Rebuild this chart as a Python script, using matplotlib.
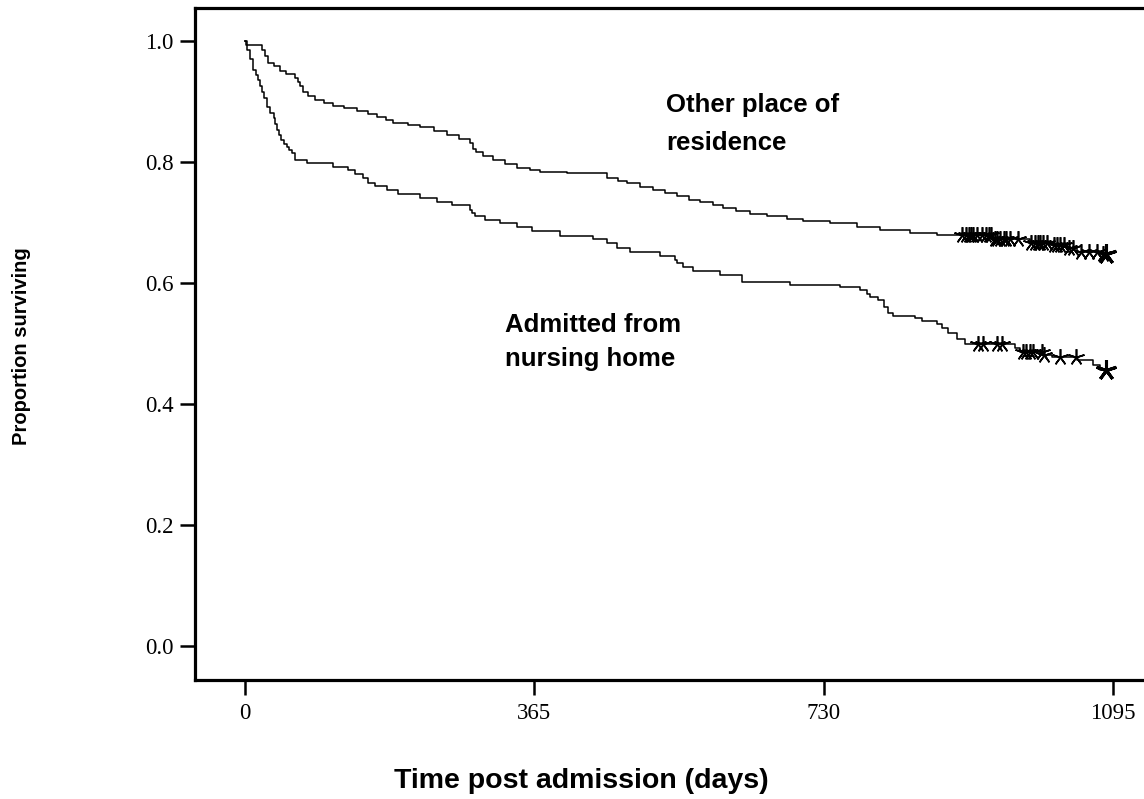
import numpy as np
import matplotlib
matplotlib.use("Agg")
import matplotlib.pyplot as plt

# ---- data ----
other_t = [0, 1, 22, 25, 29, 36, 44, 52, 63, 67, 70, 73, 80, 88, 100, 111, 125, 141, 155, 166,
           178, 187, 205, 221, 238, 255, 270, 284, 288, 292, 300, 313, 328, 343, 360, 372, 406,
           457, 470, 482, 498, 515, 530, 545, 560, 574, 590, 603, 620, 637, 658, 684, 704, 738,
           772, 801, 839, 873, 944, 990, 1016, 1037, 1050, 1080, 1090]
other_s = [1.0, 0.993, 0.985, 0.975, 0.964, 0.958, 0.951, 0.945, 0.939, 0.932, 0.925, 0.916,
           0.909, 0.902, 0.897, 0.892, 0.889, 0.885, 0.880, 0.875, 0.869, 0.864, 0.861, 0.858,
           0.852, 0.845, 0.838, 0.831, 0.822, 0.817, 0.810, 0.803, 0.797, 0.790, 0.786, 0.784,
           0.782, 0.774, 0.769, 0.765, 0.759, 0.753, 0.748, 0.743, 0.738, 0.734, 0.729, 0.724,
           0.719, 0.714, 0.711, 0.706, 0.703, 0.699, 0.693, 0.688, 0.683, 0.680, 0.672, 0.666,
           0.663, 0.658, 0.651, 0.648, 0.648]
other_cens = [905, 910, 913, 916, 919, 923, 930, 935, 938, 941, 946, 949, 953, 957, 960, 965,
              975, 992, 996, 1000, 1003, 1007, 1012, 1020, 1024, 1028, 1033, 1040, 1045, 1055,
              1065, 1075, 1082, 1086]

nh_t = [0, 3, 6, 10, 14, 17, 19, 21, 24, 28, 32, 36, 38, 40, 43, 45, 49, 53, 56, 59, 63, 78,
        111, 130, 139, 149, 155, 164, 179, 193, 221, 242, 261, 284, 286, 290, 303, 322, 343, 362,
        397, 439, 457, 469, 486, 523, 543, 545, 553, 565, 599, 627, 688, 751, 776, 785, 788, 799,
        806, 811, 818, 845, 854, 873, 879, 887, 898, 908, 971, 978, 1006, 1018, 1050, 1070, 1078,
        1088]
nh_s = [1.0, 0.985, 0.970, 0.952, 0.943, 0.935, 0.925, 0.916, 0.905, 0.891, 0.881, 0.872, 0.862,
        0.853, 0.845, 0.836, 0.830, 0.825, 0.820, 0.815, 0.804, 0.798, 0.792, 0.787, 0.780, 0.774,
        0.765, 0.760, 0.754, 0.747, 0.741, 0.734, 0.729, 0.721, 0.715, 0.710, 0.704, 0.699, 0.692,
        0.686, 0.678, 0.672, 0.666, 0.658, 0.652, 0.645, 0.638, 0.633, 0.627, 0.620, 0.613, 0.601,
        0.596, 0.593, 0.588, 0.582, 0.577, 0.572, 0.560, 0.551, 0.545, 0.542, 0.538, 0.532, 0.525,
        0.517, 0.507, 0.500, 0.493, 0.486, 0.481, 0.478, 0.473, 0.464, 0.456, 0.456]
nh_cens = [925, 931, 949, 955, 981, 985, 990, 994, 1005, 1008, 1028, 1048, 1086]

x_ticks = [0, 365, 730, 1095]
y_ticks = [0.0, 0.2, 0.4, 0.6, 0.8, 1.0]
y_ticklabels = ["0.0", "0.2", "0.4", "0.6", "0.8", "1.0"]

# ---- figure ----
W, H = 1144, 799
fig = plt.figure(figsize=(W / 100, H / 100), dpi=100)
AX_L, AX_R, AX_T, AX_B = 195, 1160, 7.5, 680
ax = fig.add_axes([AX_L / W, (H - AX_B) / H, (AX_R - AX_L) / W, (AX_B - AX_T) / H])

def surv_at(t_arr, s_arr, t):
    idx = np.searchsorted(t_arr, t, side="right") - 1
    return np.asarray(s_arr)[idx]

for t, s, c in [(other_t, other_s, other_cens), (nh_t, nh_s, nh_cens)]:
    ax.step(t, s, where="post", color="black", lw=1.1)
    cy = surv_at(np.asarray(t), s, np.asarray(c))
    ax.plot(c[:-1], cy[:-1], ls="none", marker=(5, 2, 0), ms=12, mew=1.2, color="black")
    ax.plot(c[-1:], cy[-1:], ls="none", marker=(5, 2, 0), ms=15, mew=2.2, color="black")

px_per_day = 868 / 1095
ax.set_xlim(-(245 - AX_L) / px_per_day, (AX_R - 245) / px_per_day)
ax.set_ylim(-(AX_B - 646) / 605, 1 + (41 - AX_T) / 605)

ax.set_xticks(x_ticks)
ax.set_xticklabels([str(v) for v in x_ticks])
ax.set_yticks(y_ticks)
ax.set_yticklabels(y_ticklabels)

for side in ["left", "top", "bottom"]:
    ax.spines[side].set_linewidth(2.3)
ax.spines["right"].set_visible(False)
ax.tick_params(axis="both", direction="out", length=11, width=1.8, pad=4.5,
               labelsize=16.5)
ax.tick_params(axis="x", pad=5.5)
for lab in ax.get_xticklabels() + ax.get_yticklabels():
    lab.set_fontfamily("Liberation Serif")

ax.set_xlabel("Time post admission (days)", fontsize=20.5, fontweight="bold",
              family="Liberation Sans", va="center")
ax.xaxis.set_label_coords((581 - AX_L) / (AX_R - AX_L), -(781 - AX_B) / (AX_B - AX_T))
ax.set_ylabel("Proportion surviving", fontsize=14.5, fontweight="bold",
              family="Liberation Sans", va="center")
ax.yaxis.set_label_coords((22 - AX_L) / (AX_R - AX_L), (AX_B - 346) / (AX_B - AX_T))

ax.text((666 - 245) / px_per_day, 1 - (124 - 41) / 605, "Other place of\nresidence",
        fontsize=18.5, fontweight="bold", family="Liberation Sans", va="center",
        ha="left", linespacing=1.75)
ax.text((505 - 245) / px_per_day, 1 - (342 - 41) / 605, "Admitted from\nnursing home",
        fontsize=18.5, fontweight="bold", family="Liberation Sans", va="center",
        ha="left", linespacing=1.55)

fig.savefig("out.png", dpi=100)
